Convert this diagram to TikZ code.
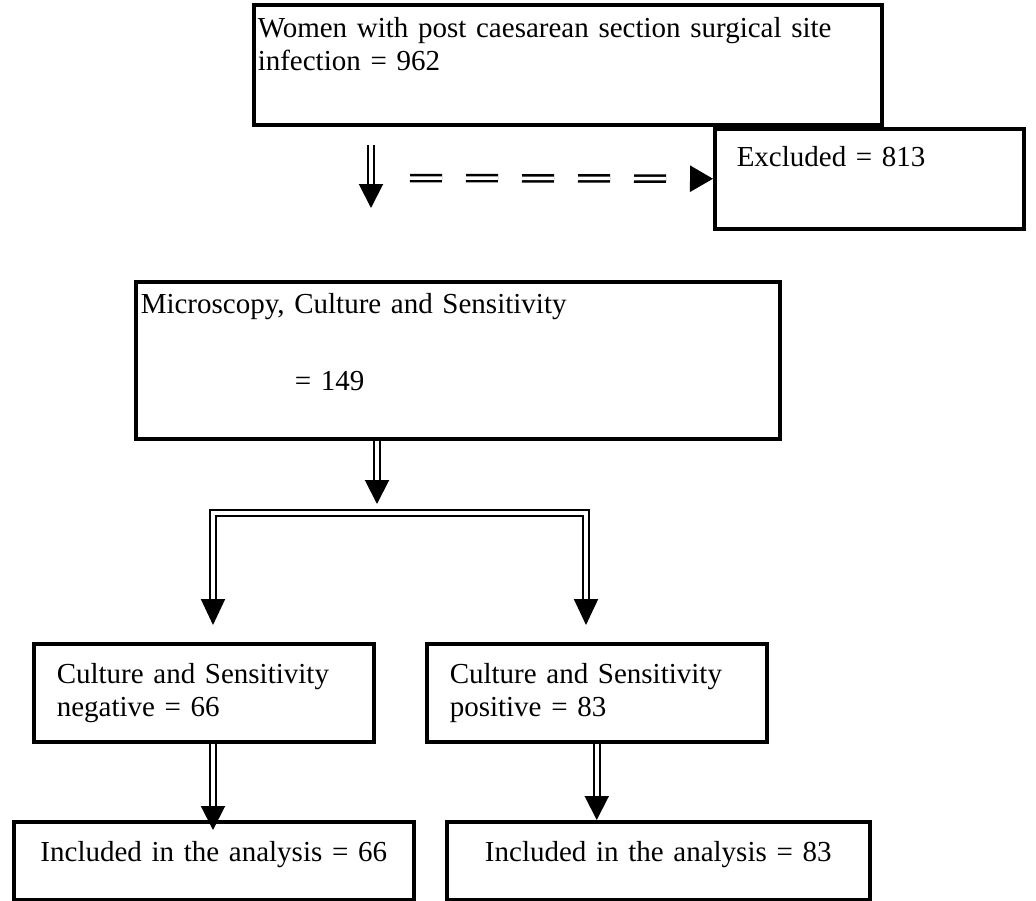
\documentclass[tikz,border=0pt]{standalone}
\usepackage{fontspec}
\setmainfont{Liberation Serif}
\usetikzlibrary{arrows.meta}

\begin{document}
\begin{tikzpicture}[x=1pt,y=-1pt, every node/.style={font=\fontsize{29}{33}\selectfont}, box/.style n args={4}{draw,line width=3.5pt,anchor=north west,align=left,inner ysep=0pt,inner xsep=#3*1pt,text width={(#1-2*#3)*1pt},text height=#4*1pt,text depth={(#2-#4)*1pt}}, arr/.style={double,double distance=3.5pt,line width=2pt,-{Triangle[width=24pt,length=24pt]}}, darr/.style={double,double distance=3.5pt,line width=2.5pt,dash pattern=on 32pt off 24pt,-{Triangle[width=26pt,length=23pt]}}]
\useasboundingbox (0,0) rectangle (1036,900);
\node[box={628}{120}{4}{33}] (women) at (252,3) {Women with post caesarean section surgical site\\infection = 962};
\node[box={309}{100}{22}{38}] (excl) at (713,127) {Excluded = 813};
\node[box={644}{157}{5}{32}] (mcs) at (134,280) {Microscopy, Culture and Sensitivity\\[44pt]\hspace*{154pt}= 149};
\node[box={340}{98}{23}{40}] (neg) at (32,642) {Culture and Sensitivity\\negative = 66};
\node[box={340}{98}{23}{40}] (pos) at (425,642) {Culture and Sensitivity\\positive = 83};
\node[box={400}{78}{10}{40},align=center] (incneg) at (12,820) {Included in the analysis = 66};
\node[box={423}{78}{10}{40},align=center] (incpos) at (445,820) {Included in the analysis = 83};
\coordinate (d1) at (371,145); \coordinate (d2) at (371,208); \coordinate (e1) at (410,178);
\coordinate (split) at (377,513); \coordinate (bl) at (213,513); \coordinate (br) at (586,513);
\draw[arr] (d1)--(d2);\draw[darr] (e1)--(excl.west);\draw[arr,shorten >=9pt] (mcs.south -| split)--(split);
\draw[arr,{Triangle[width=24pt,length=26pt]}-{Triangle[width=24pt,length=26pt]},shorten <=17pt,shorten >=17pt] (bl |- neg.north)--(bl)--(br)--(br |- pos.north);
\draw[arr,shorten >=-10pt] (neg.south -| bl)--(incneg.north -| bl);\draw[arr] (pos.south)--(incpos.north -| pos.south);
\end{tikzpicture}
\end{document}
